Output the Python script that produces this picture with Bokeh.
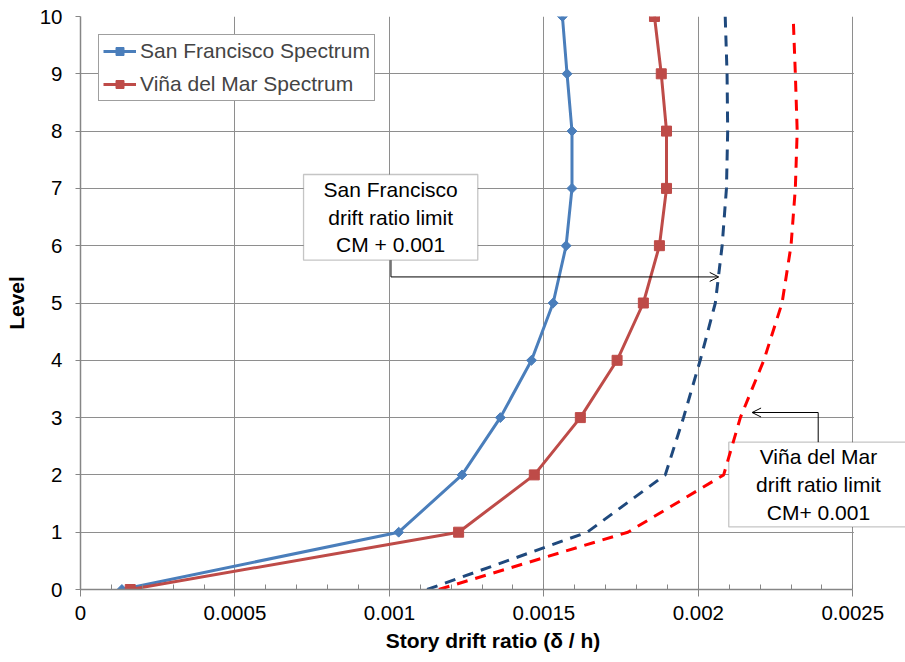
import numpy as np
from bokeh.plotting import figure
from bokeh.models import (FixedTicker, BoxAnnotation, Label, Arrow, OpenHead,
                          Legend, LegendItem, Range1d)
from bokeh.embed import file_html
from bokeh.resources import INLINE

# ---- data ----
levels = [0, 1, 2, 3, 4, 5, 6, 7, 8, 9, 10]
sf_drift = [0.000134, 0.00103, 0.001235, 0.001359, 0.00146, 0.00153,
            0.001572, 0.001591, 0.001591, 0.001575, 0.00156]
vdm_drift = [0.000161, 0.001224, 0.001469, 0.001618, 0.001737, 0.001822,
             0.001874, 0.001897, 0.001897, 0.00188, 0.001858]
sf_limit = [0.001122, 0.00164, 0.001893, 0.001952, 0.002006, 0.002055,
            0.002077, 0.002091, 0.002095, 0.002093, 0.002087]
vdm_limit = [0.00116, 0.001772, 0.002082, 0.002136, 0.002212, 0.002271,
             0.0023, 0.002314, 0.00232, 0.002314, 0.002307]

x_ticks = [0.0, 0.0005, 0.001, 0.0015, 0.002, 0.0025]
x_tick_labels = ["0", "0.0005", "0.001", "0.0015", "0.002", "0.0025"]
x_minor_ticks = [i * 0.0001 for i in range(26)]
y_ticks = levels

X_MAX = 0.0025      # end of the drawn axis
X_VIEW = 0.0026706  # frame extends past the axis so the callout box is not clipped

FONT = "Liberation Sans"
GRID = "#8e8e8e"

p = figure(width=905, height=662,
           x_range=Range1d(0, X_VIEW), y_range=Range1d(0, 10),
           output_backend="svg", toolbar_location=None,
           min_border_left=80, min_border_right=0,
           min_border_top=16, min_border_bottom=73)
p.background_fill_color = "white"
p.border_fill_color = "white"
p.outline_line_color = None

xt = FixedTicker(ticks=x_ticks, minor_ticks=x_minor_ticks)
yt = FixedTicker(ticks=y_ticks, minor_ticks=[])
p.xaxis.ticker = xt
p.yaxis.ticker = yt
p.xgrid.ticker = xt
p.ygrid.ticker = yt
p.xaxis.major_label_overrides = dict(zip(x_ticks, x_tick_labels))
p.xaxis.bounds = (0, X_MAX)

for g in (p.xgrid, p.ygrid):
    g.grid_line_color = GRID
    g.grid_line_width = 1

for ax in (p.xaxis, p.yaxis):
    ax.axis_line_color = "#868686"
    ax.axis_line_width = 1.5
    ax.major_tick_line_color = "#868686"
    ax.minor_tick_line_color = "#868686"
    ax.major_label_text_font = FONT
    ax.major_label_text_font_size = "20.5px"
    ax.major_label_text_color = "black"
    ax.axis_label_text_font = FONT
    ax.axis_label_text_font_size = "21px"
    ax.axis_label_text_font_style = "bold"
    ax.axis_label_text_color = "black"

p.xaxis.axis_label = "Story drift ratio (δ / h)"
p.xaxis.major_tick_in = 0
p.xaxis.major_tick_out = 7
p.xaxis.minor_tick_in = 5
p.xaxis.minor_tick_out = 0
p.xaxis.major_label_standoff = 9
p.xaxis.axis_label_standoff = 6

p.yaxis.axis_label = "Level"
p.yaxis.major_tick_in = 0
p.yaxis.major_tick_out = 5
p.yaxis.minor_tick_in = 0
p.yaxis.minor_tick_out = 0
p.yaxis.major_label_standoff = 13
p.yaxis.axis_label_standoff = 9

# white area right of the plot area (hides grid lines beyond the axis end)
p.add_layout(BoxAnnotation(left=X_MAX + 0.0000035, fill_color="white", fill_alpha=1.0,
                           line_color=None, level="underlay"))

# ---- annotation boxes (behind glyphs, above grid) ----
p.add_layout(BoxAnnotation(left=0.000722, right=0.001286, bottom=5.747, top=7.243,
                           fill_color="white", fill_alpha=1.0,
                           line_color="#404040", line_width=1.3, level="underlay"))
p.add_layout(BoxAnnotation(left=0.0020985, right=0.00268, bottom=1.0925, top=2.571,
                           fill_color="white", fill_alpha=1.0,
                           line_color="#404040", line_width=1.3, level="underlay"))

# ---- series ----
SF_C = "#4A7EBB"
VDM_C = "#BE4B48"
sf_line = p.line(sf_drift, levels, line_color=SF_C, line_width=3)
sf_pts = p.scatter(sf_drift, levels, marker="square", angle=np.pi / 4, size=7,
                   fill_color=SF_C, line_color=SF_C)
vdm_line = p.line(vdm_drift, levels, line_color=VDM_C, line_width=3)
vdm_pts = p.scatter(vdm_drift, levels, marker="square", size=10,
                    fill_color=VDM_C, line_color=VDM_C)
p.line(sf_limit, levels, line_color="#1F497D", line_width=3, line_dash="11 8")
p.line(vdm_limit, levels, line_color="#FF0000", line_width=3, line_dash="11 8")

# ---- callouts ----
p.add_layout(Label(x=0.001004, y=6.495, text="San Francisco\ndrift ratio limit\nCM + 0.001",
                   text_align="center", text_baseline="middle",
                   text_font=FONT, text_font_size="21px", text_color="black"))
p.add_layout(Label(x=0.002389, y=1.832, text="Viña del Mar\ndrift ratio limit\nCM+ 0.001",
                   text_align="center", text_baseline="middle",
                   text_font=FONT, text_font_size="21px", text_color="black"))

p.add_layout(Arrow(end=None, x_start=0.001005, y_start=5.747, x_end=0.001005, y_end=5.455,
                   line_color="black", line_width=1))
p.add_layout(Arrow(end=OpenHead(size=9, line_width=1, line_color="black"),
                   x_start=0.001005, y_start=5.455, x_end=0.002066, y_end=5.455,
                   line_color="black", line_width=1))
p.add_layout(Arrow(end=None, x_start=0.002388, y_start=2.571, x_end=0.002388, y_end=3.089,
                   line_color="black", line_width=1))
p.add_layout(Arrow(end=OpenHead(size=9, line_width=1, line_color="black"),
                   x_start=0.002388, y_start=3.089, x_end=0.002174, y_end=3.089,
                   line_color="black", line_width=1))

# ---- legend ----
legend = Legend(items=[LegendItem(label="San Francisco Spectrum", renderers=[sf_line, sf_pts]),
                       LegendItem(label="Viña del Mar Spectrum", renderers=[vdm_line, vdm_pts])],
                location="top_left", margin=18, padding=4,
                label_text_font=FONT, label_text_font_size="21px",
                label_height=20, glyph_height=20, glyph_width=33,
                label_standoff=4, spacing=9,
                border_line_color="#404040", border_line_width=1.3,
                background_fill_color="white", background_fill_alpha=1.0)
p.add_layout(legend)

open("out.html", "w").write(file_html(p, INLINE))
